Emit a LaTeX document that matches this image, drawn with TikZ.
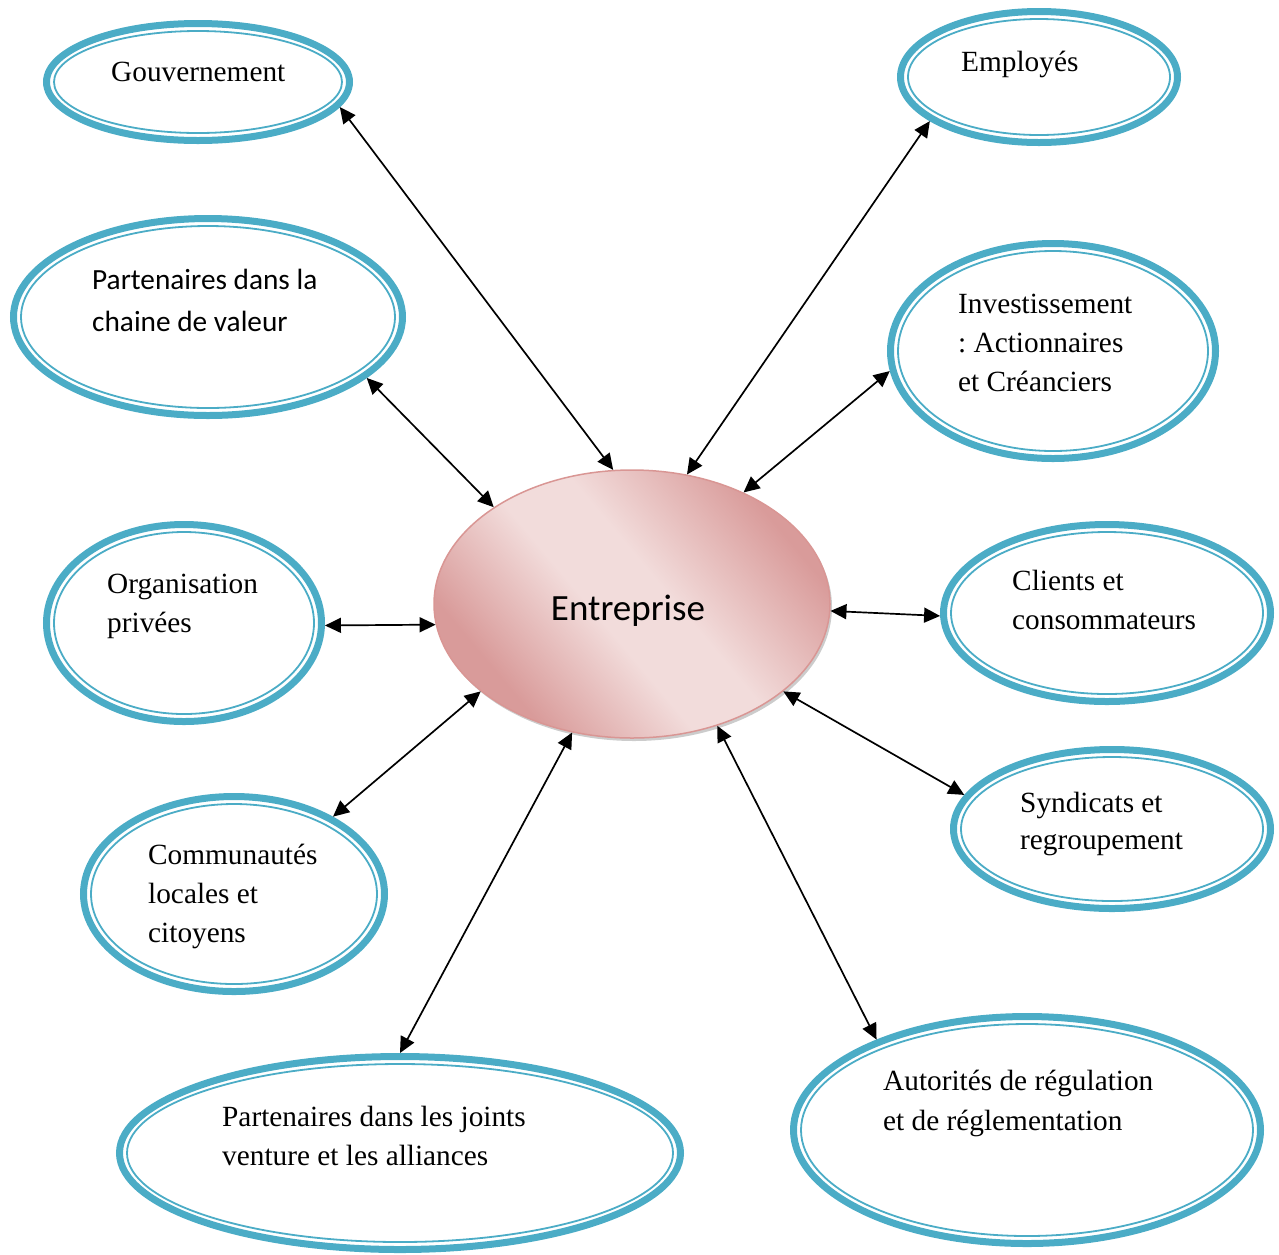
\documentclass[tikz,border=0pt]{standalone}
\usepackage{fontspec}
\setmainfont{Liberation Serif}
\newfontfamily\calibri{Carlito}
\usetikzlibrary{arrows.meta,shapes.geometric,shadows}
\definecolor{ringblue}{HTML}{4BACC6}
\definecolor{pinkdk}{HTML}{D99B9A}
\definecolor{pinklt}{HTML}{F2DCDB}
\definecolor{pinkbd}{HTML}{D99694}
\pgfdeclareverticalshading{pinkband}{100bp}{color(0bp)=(pinkdk); color(28bp)=(pinkdk); color(45bp)=(pinklt); color(55bp)=(pinklt); color(74bp)=(pinkdk); color(100bp)=(pinkdk)}
\frenchspacing
\tikzset{
 bubble/.style={ellipse, draw=ringblue, line width=7pt, inner sep=0pt},
 innerring/.style={draw=ringblue, line width=1.8pt},
 lbl/.style={anchor=base west, align=left, inner sep=0pt, font=\fontsize{29.3}{39}\selectfont},
 link/.style={line width=1.7pt, {Triangle[length=16pt,width=15pt]}-{Triangle[length=16pt,width=15pt]}},
}
\newcommand\bubblenode[5]{%
 \node[bubble, minimum width={2*(#4-3.5)*1pt}, minimum height={2*(#5-3.5)*1pt}] (#1) at (#2,#3) {};
 \draw[innerring] (#1.center) ellipse [x radius={(#4-11)*1pt}, y radius={(#5-11)*1pt}];
}
\begin{document}
\begin{tikzpicture}[x=1pt,y=-1pt]
\useasboundingbox (0,0) rectangle (1279,1254);
\bubblenode{gov}{198}{82}{155}{62}
\bubblenode{emp}{1039}{77}{142}{69}
\bubblenode{pc}{208}{317}{198}{102}
\bubblenode{inv}{1053}{351}{166}{111}
\bubblenode{org}{184}{623}{141}{102}
\bubblenode{cli}{1107}{613}{167}{92}
\bubblenode{com}{234}{894}{154}{101}
\bubblenode{syn}{1112}{829}{162}{83}
\bubblenode{pj}{400}{1153}{284}{100}
\bubblenode{aut}{1027}{1130}{237}{117}

\node[ellipse, minimum width=396pt, minimum height=268pt, inner sep=0pt, draw=pinkbd, line width=1.5pt,
 shading=pinkband, shading angle=-50,
 drop shadow={shadow xshift=2pt, shadow yshift=-3pt, fill=black!40, opacity=0.5}] (E) at (632,604) {};
\node[inner sep=0pt, anchor=base, font=\calibri\fontsize{37}{44}\selectfont] (tE) at (628,620) {Entreprise};

\node[lbl] (tGov) at (111,81) {Gouvernement};
\node[lbl] (tEmp) at (961,71) {Employés};
\node[lbl, font=\calibri\fontsize{29.3}{42}\selectfont] (tPC) at (92,331) {Partenaires dans la\\chaine de valeur};
\node[lbl] (tInv) at (958,391) {Investissement\\: Actionnaires\\et Créanciers};
\node[lbl] (tOrg) at (107,632) {Organisation\\privées};
\node[lbl] (tCli) at (1012,629) {Clients et\\consommateurs};
\node[lbl] (tCom) at (148,942) {Communautés\\locales et\\citoyens};
\node[lbl, font=\fontsize{29.3}{37}\selectfont] (tSyn) at (1020,849) {Syndicats et\\regroupement};
\node[lbl] (tPJ) at (222,1165) {Partenaires dans les joints\\venture et les alliances};
\node[lbl, font=\fontsize{29.3}{40}\selectfont] (tAut) at (883,1130) {Autorités de régulation\\et de réglementation};

\draw[link] (gov.-10.7) -- (E.98.1);
\draw[link] (emp.202.9) -- (E.67.3);
\draw[link] (pc.-21.2) -- (E.145.6);
\draw[link] (inv.187.4) -- (E.45.8);
\draw[link] (org.-1.3) -- (E.186.9);
\draw[link] (cli.181.1) -- (E.-2.9);
\draw[link] (com.38.5) -- (E.210.6);
\draw[link] (syn.167.3) -- (E.-30);
\draw[link] (pj.90) -- (E.-115.1);
\draw[link] (aut.149.7) -- (E.-55.9);
\end{tikzpicture}
\end{document}
